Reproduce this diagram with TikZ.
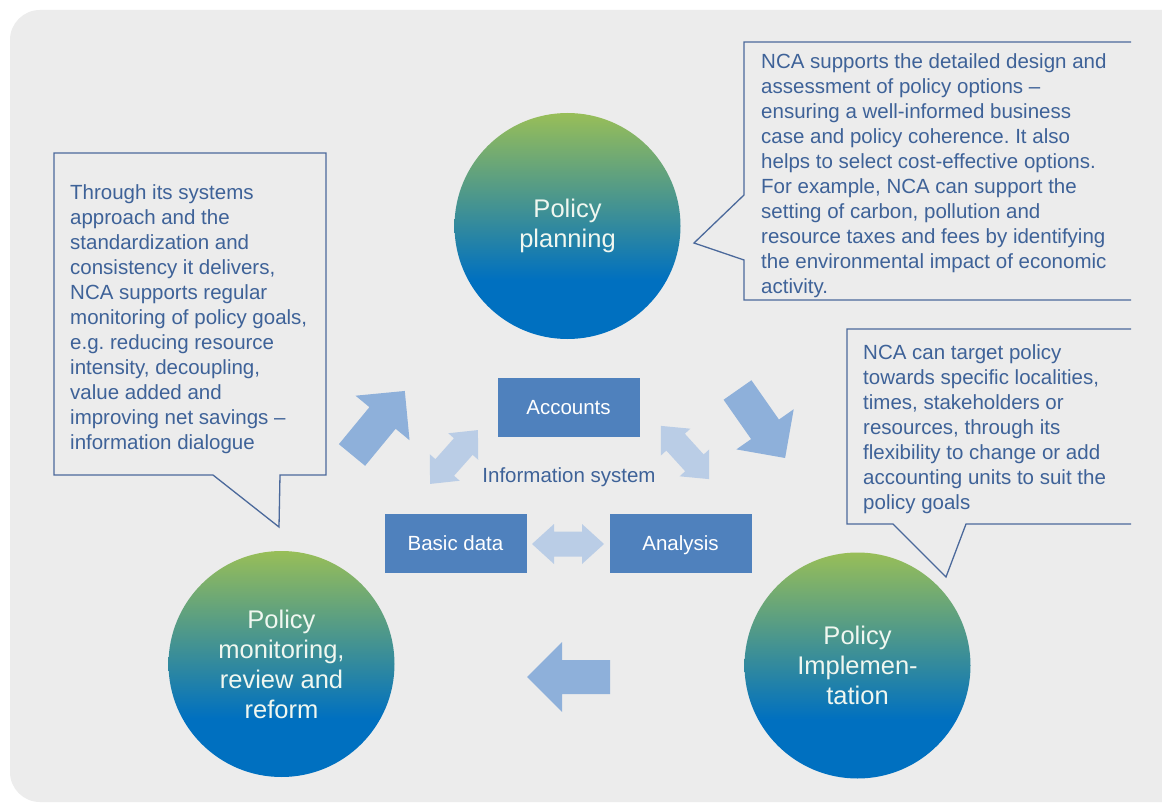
\documentclass[tikz,border=0pt]{standalone}
\usepackage{fontspec}
\setmainfont{Liberation Sans}
\definecolor{bgc}{RGB}{236,236,236}
\definecolor{cgreen}{RGB}{152,190,88}
\definecolor{cblue}{RGB}{0,112,192}
\definecolor{boxc}{RGB}{79,129,189}
\definecolor{txtc}{RGB}{62,98,152}
\definecolor{linec}{RGB}{75,105,155}
\definecolor{bigc}{RGB}{142,176,218}
\definecolor{dblc}{RGB}{186,205,230}
\definecolor{circtext}{RGB}{240,247,240}
\pgfdeclareverticalshading{circshade}{100bp}{color(0bp)=(cblue); color(38bp)=(cblue); color(75bp)=(cgreen); color(100bp)=(cgreen)}
\begin{document}
\begin{tikzpicture}[x=1pt,y=-1pt,
  phase/.style={circle, minimum size=226pt, inner sep=0pt, shading=circshade,
    text=circtext, align=center, font=\fontsize{25.5}{30}\selectfont},
  infobox/.style={fill=boxc, text=white, minimum width=142pt, minimum height=59pt,
    inner sep=0pt, text height=14.7pt, text depth=0pt, font=\fontsize{20.5}{25}\selectfont},
  callout/.style={draw=linec, line width=1.3pt, line join=miter},
  calltext/.style={anchor=north west, inner sep=0pt, text=txtc, align=left,
    font=\fontsize{20.5}{25}\selectfont\frenchspacing},
  bigarrow/.pic={\fill[bigc] (0,-17) -- (48,-17) -- (48,-35) -- (83,0) -- (48,35) -- (48,17) -- (0,17) -- cycle;},
  dblarrow/.pic={\fill[dblc] (-36,0) -- (-14,-20) -- (-14,-12.5) -- (14,-12.5) -- (14,-20) -- (36,0) -- (14,20) -- (14,12.5) -- (-14,12.5) -- (-14,20) -- cycle;}
]
\useasboundingbox (0,0) rectangle (1162,805);
\clip (0,0) rectangle (1162,805);
\fill[white] (0,0) rectangle (1162,805);
\fill[bgc, rounded corners=30pt] (10,10) rectangle (1240,802);

% circles
\node[phase] (plan) at (567.5,226) {Policy\\planning};
\node[phase] (monit) at (281.5,664) {Policy\\monitoring,\\review and\\reform};
\node[phase] (impl) at (857.5,665.5) {Policy\\Implemen-\\tation};

% big cycle arrows
\pic[rotate=50.5] at (352,455) {bigarrow};
\pic[rotate=-55] at (737.5,390) {bigarrow};
\pic[rotate=180] at (610,677) {bigarrow};

% information system
\node[infobox] (acc) at (568.5,407) {Accounts};
\node[infobox] (basic) at (455.5,543.5) {Basic data};
\node[infobox] (anal) at (680.5,543.5) {Analysis};
\node[text=txtc, inner sep=0pt, font=\fontsize{20.5}{25}\selectfont] (info) at (569,477) {Information system};

\pic at (568,544) {dblarrow};
\pic[rotate=48.4] at (454,457) {dblarrow};
\pic[rotate=-47.7] at (685,452.5) {dblarrow};

% callouts
\draw[callout] (54,153) -- (326,153) -- (326,475) -- (280,475) -- (279,527) -- (213,475) -- (54,475) -- cycle;
\node[calltext] (lefttext) at (70,184) {Through its systems\\approach and the\\standardization and\\consistency it delivers,\\NCA supports regular\\monitoring of policy goals,\\e.g. reducing resource\\intensity, decoupling,\\value added and\\improving net savings –\\information dialogue};

\draw[callout] (1131,42) -- (744,42) -- (744,195) -- (694,243) -- (744,260) -- (744,300) -- (1131,300);
\node[calltext] (toptext) at (761,53) {NCA supports the detailed design and\\assessment of policy options –\\ensuring a well-informed business\\case and policy coherence. It also\\helps to select cost-effective options.\\For example, NCA can support the\\setting of carbon, pollution and\\resource taxes and fees by identifying\\the environmental impact of economic\\activity.};

\draw[callout] (1131,329) -- (847,329) -- (847,524) -- (893,524) -- (946,577) -- (966,524) -- (1131,524);
\node[calltext] (righttext) at (863,344) {NCA can target policy\\towards specific localities,\\times, stakeholders or\\resources, through its\\flexibility to change or add\\accounting units to suit the\\policy goals};
\end{tikzpicture}
\end{document}
